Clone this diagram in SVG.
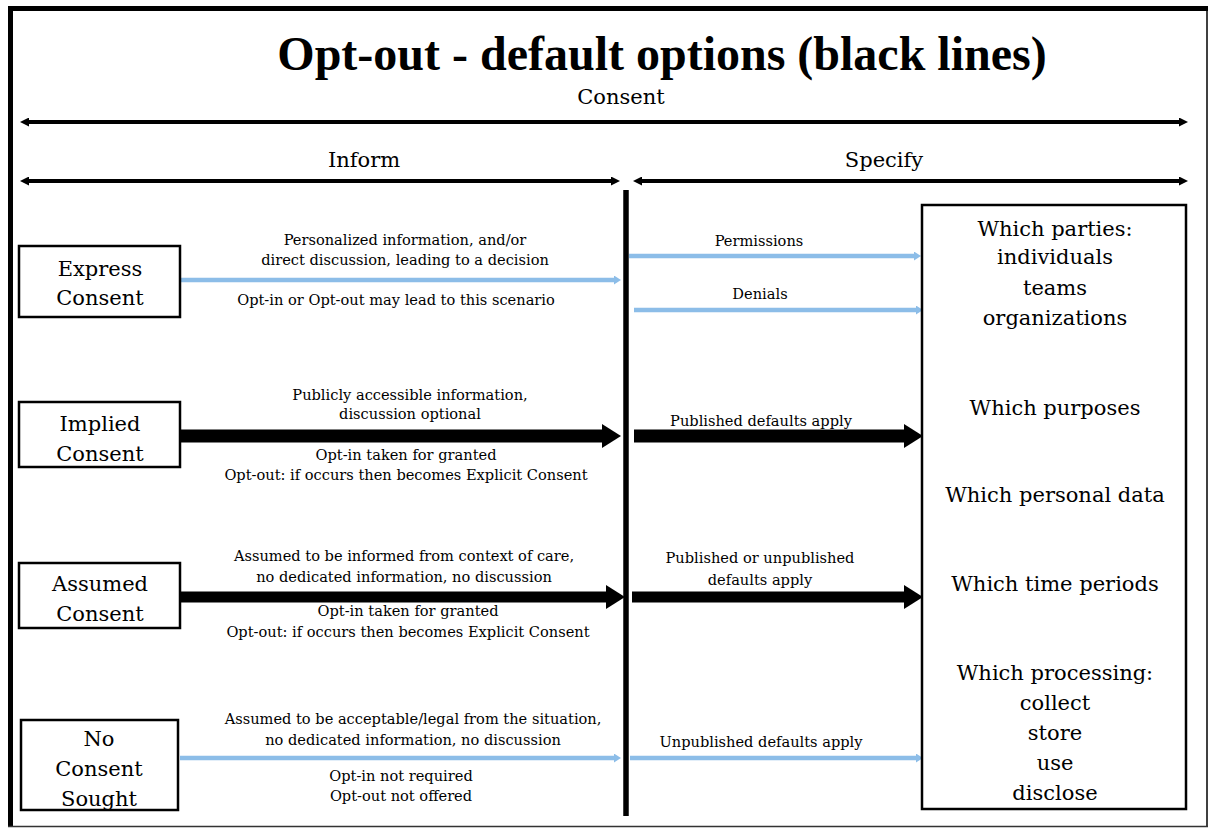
<svg xmlns="http://www.w3.org/2000/svg" width="1209" height="828" viewBox="0 0 1209 828">
<defs>
<style>
text{font-family:"DejaVu Serif","Liberation Serif",serif;fill:#000;text-anchor:middle}
.title{font-family:"Liberation Serif","DejaVu Serif",serif;font-size:48px;font-weight:bold}
.hdr{font-size:21px}
.node{font-size:21px}
.lbl{font-size:14.6px}
.box{fill:#fff;stroke:#000;stroke-width:2.5}
.blue{stroke:#8cbde8;stroke-width:4.5;fill:none}
.blk{stroke:#000;fill:none}
.dbl{stroke:#000;stroke-width:4;fill:none}
</style>
<marker id="hb" markerUnits="userSpaceOnUse" markerWidth="10" markerHeight="10" refX="0" refY="4.5" orient="auto"><path d="M0,0 L7,4.5 L0,9 z" fill="#8cbde8"/></marker>
<marker id="hk" markerUnits="userSpaceOnUse" markerWidth="24" markerHeight="26" refX="0" refY="12" orient="auto"><path d="M0,0 L19,12 L0,24 z" fill="#000"/></marker>
<marker id="hd" markerUnits="userSpaceOnUse" markerWidth="12" markerHeight="10" refX="0" refY="4.5" orient="auto"><path d="M0,0 L9,4.5 L0,9 z" fill="#000"/></marker>
<marker id="hds" markerUnits="userSpaceOnUse" markerWidth="12" markerHeight="10" refX="9" refY="4.5" orient="auto"><path d="M9,0 L0,4.5 L9,9 z" fill="#000"/></marker>
</defs>
<rect x="0" y="0" width="1209" height="828" fill="#fff"/>
<g id="frame">
<line x1="8" y1="8.5" x2="1208" y2="8.5" stroke="#000" stroke-width="5"/>
<line x1="10.5" y1="6" x2="10.5" y2="827" stroke="#000" stroke-width="5"/>
<line x1="1207" y1="8" x2="1207" y2="827" stroke="#000" stroke-width="1.5"/>
<line x1="8" y1="826.5" x2="1208" y2="826.5" stroke="#333" stroke-width="1.5"/>
</g>
<g id="title">
<text class="title" x="662" y="70">Opt-out - default options (black lines)</text>
<text class="hdr" x="621" y="104">Consent</text>
<text class="hdr" x="364" y="167">Inform</text>
<text class="hdr" x="884" y="167">Specify</text>
</g>
<g id="connectors">
<line class="dbl" x1="29" y1="122" x2="1179" y2="122" marker-start="url(#hds)" marker-end="url(#hd)"/>
<line class="dbl" x1="29" y1="181" x2="611" y2="181" marker-start="url(#hds)" marker-end="url(#hd)"/>
<line class="dbl" x1="642" y1="181" x2="1179" y2="181" marker-start="url(#hds)" marker-end="url(#hd)"/>
<line x1="626" y1="190" x2="626" y2="816" stroke="#000" stroke-width="5.5"/>
<line class="blue" x1="180" y1="280" x2="614" y2="280" marker-end="url(#hb)"/>
<line class="blue" x1="629" y1="256" x2="914" y2="256" marker-end="url(#hb)"/>
<line class="blue" x1="634" y1="310" x2="916" y2="310" marker-end="url(#hb)"/>
<line class="blk" stroke-width="13" x1="180" y1="436" x2="602" y2="436" marker-end="url(#hk)"/>
<line class="blk" stroke-width="13" x1="634" y1="436" x2="904" y2="436" marker-end="url(#hk)"/>
<line class="blk" stroke-width="11" x1="180" y1="597" x2="606" y2="597" marker-end="url(#hk)"/>
<line class="blk" stroke-width="11" x1="632" y1="597" x2="904" y2="597" marker-end="url(#hk)"/>
<line class="blue" x1="180" y1="758" x2="614" y2="758" marker-end="url(#hb)"/>
<line class="blue" x1="630" y1="758" x2="916" y2="758" marker-end="url(#hb)"/>
</g>
<g id="labels">
<text class="lbl" x="405" y="245">Personalized information, and/or</text>
<text class="lbl" x="405" y="265">direct discussion, leading to a decision</text>
<text class="lbl" x="396" y="305">Opt-in or Opt-out may lead to this scenario</text>
<text class="lbl" x="759" y="246">Permissions</text>
<text class="lbl" x="760" y="299">Denials</text>
<text class="lbl" x="410" y="400">Publicly accessible information,</text>
<text class="lbl" x="410" y="419">discussion optional</text>
<text class="lbl" x="406" y="460">Opt-in taken for granted</text>
<text class="lbl" x="406" y="480">Opt-out: if occurs then becomes Explicit Consent</text>
<text class="lbl" x="761" y="426">Published defaults apply</text>
<text class="lbl" x="404" y="561">Assumed to be informed from context of care,</text>
<text class="lbl" x="404" y="582">no dedicated information, no discussion</text>
<text class="lbl" x="408" y="616">Opt-in taken for granted</text>
<text class="lbl" x="408" y="637">Opt-out: if occurs then becomes Explicit Consent</text>
<text class="lbl" x="760" y="563">Published or unpublished</text>
<text class="lbl" x="760" y="585">defaults apply</text>
<text class="lbl" x="413" y="724">Assumed to be acceptable/legal from the situation,</text>
<text class="lbl" x="413" y="745">no dedicated information, no discussion</text>
<text class="lbl" x="401" y="781">Opt-in not required</text>
<text class="lbl" x="401" y="801">Opt-out not offered</text>
<text class="lbl" x="761" y="747">Unpublished defaults apply</text>
</g>
<g id="express">
<rect class="box" x="19" y="246" width="161" height="71"/>
<text class="node" x="100" y="276">Express</text>
<text class="node" x="100" y="305">Consent</text>
</g>
<g id="implied">
<rect class="box" x="19" y="402" width="161" height="65"/>
<text class="node" x="100" y="431">Implied</text>
<text class="node" x="100" y="461">Consent</text>
</g>
<g id="assumed">
<rect class="box" x="19" y="563" width="161" height="65"/>
<text class="node" x="100" y="591">Assumed</text>
<text class="node" x="100" y="621">Consent</text>
</g>
<g id="nosought">
<rect class="box" x="21" y="720" width="157" height="90"/>
<text class="node" x="99" y="746">No</text>
<text class="node" x="99" y="776">Consent</text>
<text class="node" x="99" y="806">Sought</text>
</g>
<g id="specify-box">
<rect class="box" x="922" y="205" width="264" height="604"/>
<text class="node" x="1055" y="236">Which parties:</text>
<text class="node" x="1055" y="264">individuals</text>
<text class="node" x="1055" y="295">teams</text>
<text class="node" x="1055" y="325">organizations</text>
<text class="node" x="1055" y="415">Which purposes</text>
<text class="node" x="1055" y="502">Which personal data</text>
<text class="node" x="1055" y="591">Which time periods</text>
<text class="node" x="1055" y="680">Which processing:</text>
<text class="node" x="1055" y="710">collect</text>
<text class="node" x="1055" y="740">store</text>
<text class="node" x="1055" y="770">use</text>
<text class="node" x="1055" y="800">disclose</text>
</g>
</svg>
